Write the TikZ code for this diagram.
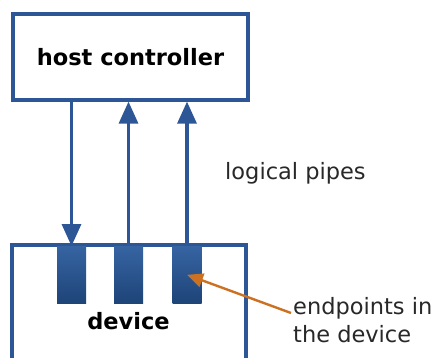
\documentclass[tikz,border=0pt]{standalone}
\usepackage{fontspec}
\setmainfont{DejaVu Sans}
\usepackage{tikz}
\usetikzlibrary{arrows.meta,positioning}

\definecolor{pipeblue}{RGB}{44,86,150}
\definecolor{eptop}{RGB}{54,100,162}
\definecolor{epbot}{RGB}{30,68,120}
\definecolor{pointer}{RGB}{204,112,34}
\definecolor{txtgrey}{RGB}{40,40,40}

\begin{document}
\begin{tikzpicture}[x=1pt, y=1pt,
    box/.style={rectangle, draw=pipeblue, line width=3.2pt, fill=white, inner sep=0pt, font=\fontsize{22.5}{24}\selectfont\bfseries},
    endpt/.style={rectangle, inner sep=0pt, minimum width=29pt, minimum height=57pt, top color=eptop, bottom color=epbot},
    pipe/.style={draw=pipeblue, line width=3.2pt, -{Triangle[length=22pt, width=19pt]}},
    note/.style={font=\fontsize{22.5}{28}\selectfont, text=txtgrey, align=left, inner sep=0pt},
    pointer arrow/.style={draw=pointer, line width=2.4pt, -{Triangle[length=16pt, width=14pt]}}
]
    \useasboundingbox (0,0) rectangle (436,358);

    % Host
    \node[box, minimum width=235pt, minimum height=86pt] (host) at (130.5,301) {host controller};

    % Device (runs off the bottom)
    \node[box, minimum width=234pt, minimum height=140pt] (device) at (129,43) {};
    \node[anchor=base, font=\fontsize{22.5}{24}\selectfont\bfseries] (devname) at (128.5,28) {device};

    % Endpoints
    \node[endpt] (ep1) at (71.5,83.2) {};
    \node[endpt] (ep2) at (128.5,83.2) {};
    \node[endpt] (ep3) at (187,83.2) {};

    % Pipes
    \draw[pipe] (host.south -| ep1) -- (ep1.north);
    \draw[pipe] (ep2.north) -- (host.south -| ep2);
    \draw[pipe] (ep3.north) -- (host.south -| ep3);

    % Labels
    \node[note, anchor=base west] (pipes) at (225,178) {logical pipes};
    \node[note, anchor=base west] (pts) at (293,15) {endpoints in\\the device};
    \draw[pointer arrow] ([shift={(-2,30)}]pts.base west) -- (ep3.center);
\end{tikzpicture}
\end{document}
